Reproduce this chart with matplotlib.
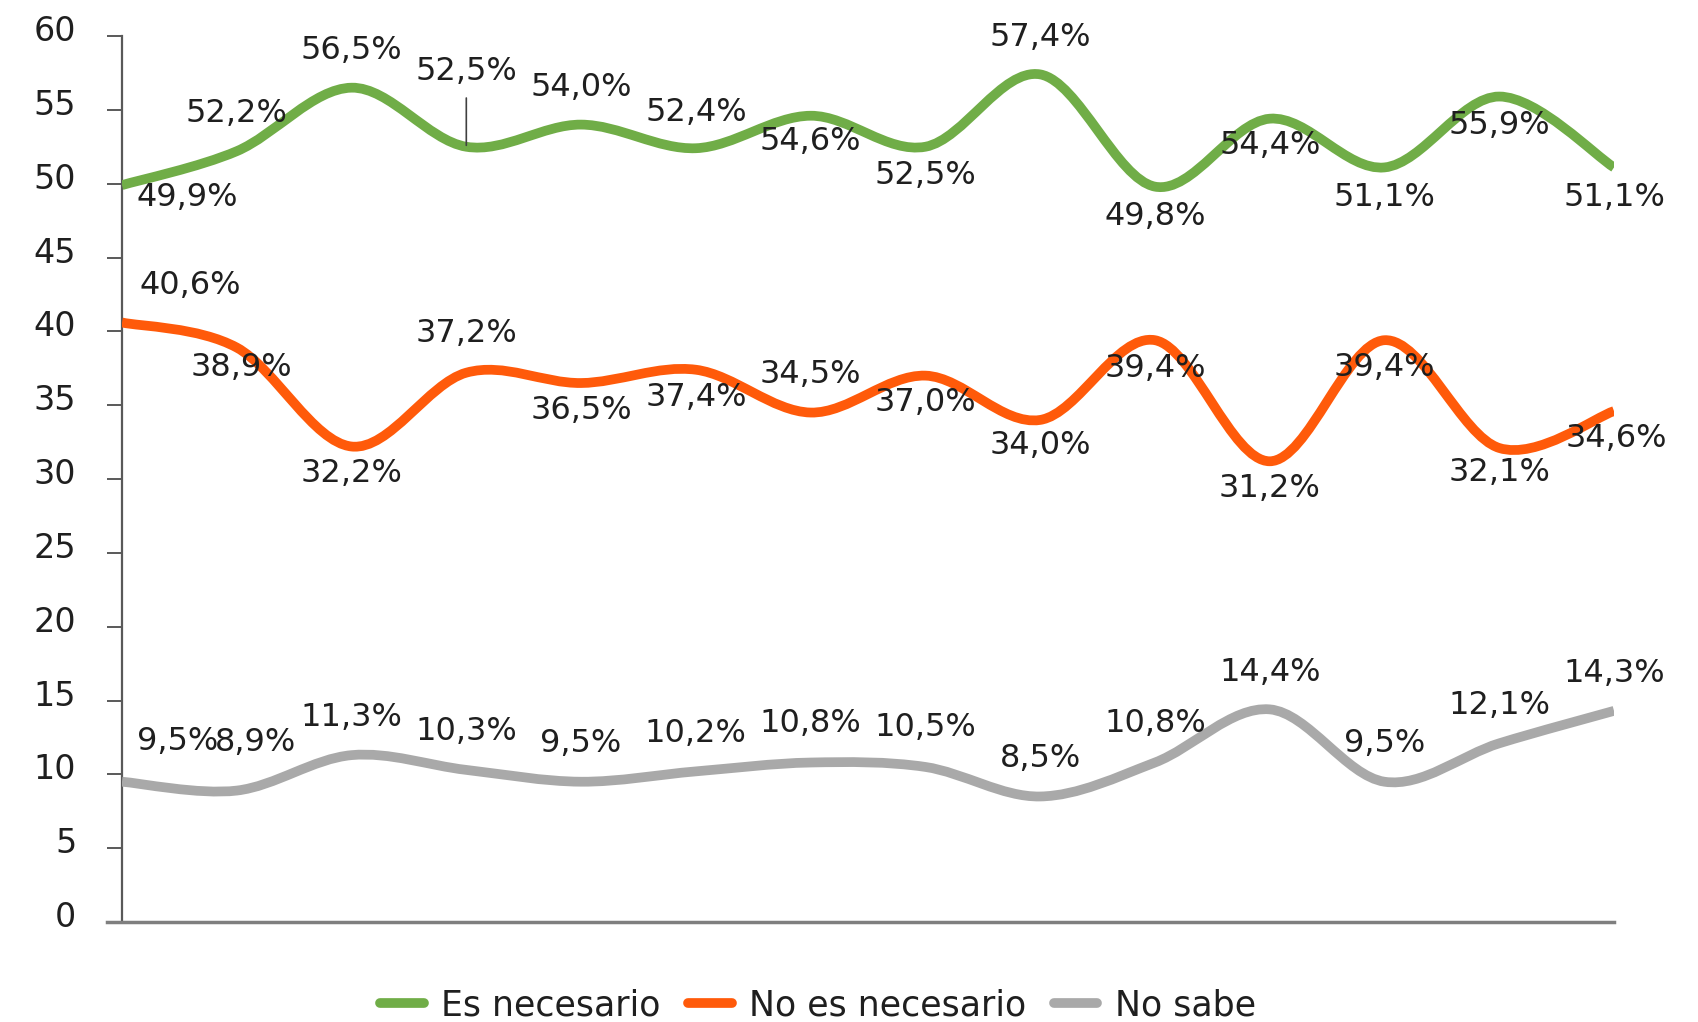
import numpy as np
import matplotlib
matplotlib.use("Agg")
import matplotlib.pyplot as plt
from matplotlib.path import Path
from matplotlib.patches import PathPatch
from matplotlib.lines import Line2D
from matplotlib.transforms import ScaledTranslation

# ---------------- data ----------------
series_names = ["Es necesario", "No es necesario", "No sabe"]
es_necesario = [49.9, 52.2, 56.5, 52.5, 54.0, 52.4, 54.6, 52.5, 57.4, 49.8, 54.4, 51.1, 55.9, 51.1]
no_es_necesario = [40.6, 38.9, 32.2, 37.2, 36.5, 37.4, 34.5, 37.0, 34.0, 39.4, 31.2, 39.4, 32.1, 34.6]
no_sabe = [9.5, 8.9, 11.3, 10.3, 9.5, 10.2, 10.8, 10.5, 8.5, 10.8, 14.4, 9.5, 12.1, 14.3]
y_ticks = [0, 5, 10, 15, 20, 25, 30, 35, 40, 45, 50, 55, 60]

# ---------------- style ----------------
colors = ["#70AD47", "#FF5A0A", "#A9A9A9"]
# label offsets in pixels (dx, dy; dy positive = down)
off_green = [(65, 12), (0, -38), (0, -37), (0, -75), (0, -37), (0, -36), (0, 26),
             (0, 29), (0, -37), (0, 30), (0, 27), (0, 30), (0, 29), (0, 30)]
off_orange = [(68, -37), (5, 20), (0, 27), (0, -39), (0, 27), (0, 28), (0, -38),
              (0, 27), (0, 26), (0, 28), (0, 27), (0, 27), (0, 25), (2, 27)]
off_gray = [(56, -40), (19, -48), (0, -38), (0, -38), (0, -38), (0, -38), (0, -39),
            (0, -39), (0, -38), (0, -39), (0, -37), (0, -38), (0, -38), (0, -37)]

W, H, DPI = 1699, 1022, 100
fig = plt.figure(figsize=(W / DPI, H / DPI), dpi=DPI)
fig.patch.set_facecolor("white")
left, right, y0px, y60px = 122, 1614, 922, 36
ax = fig.add_axes([left / W, 1 - y0px / H, (right - left) / W, (y0px - y60px) / H])

FONT = "DejaVu Sans"
TXT = "#1f1f1f"
x = np.arange(len(es_necesario))


def smooth_path(xs, ys):
    pts = np.column_stack([xs, ys]).astype(float)
    n = len(pts)
    verts = [pts[0]]
    codes = [Path.MOVETO]
    for i in range(n - 1):
        p0 = pts[i - 1] if i > 0 else pts[i]
        p1 = pts[i]
        p2 = pts[i + 1]
        p3 = pts[i + 2] if i + 2 < n else pts[i + 1]
        c1 = p1 + (p2 - p0) / 6.0
        c2 = p2 - (p3 - p1) / 6.0
        verts += [c1, c2, p2]
        codes += [Path.CURVE4] * 3
    return Path(verts, codes)


all_series = [es_necesario, no_es_necesario, no_sabe]
all_offsets = [off_green, off_orange, off_gray]
for vals, col, offs in zip(all_series, colors, all_offsets):
    patch = PathPatch(smooth_path(x, vals), facecolor="none", edgecolor=col,
                      lw=7, capstyle="butt", joinstyle="round", zorder=3)
    ax.add_patch(patch)
    for i, v in enumerate(vals):
        lab = f"{v:.1f}".replace(".", ",") + "%"
        dx, dy = offs[i]
        ax.annotate(lab, (x[i], v), xytext=(dx * 0.72, -dy * 0.72), textcoords="offset points",
                    ha="center", va="center", fontsize=23, color=TXT, family=FONT,
                    zorder=5, annotation_clip=False)

# leader line for the 4th green label
ax.annotate("", xy=(x[3], es_necesario[3]), xytext=(x[3], es_necesario[3] + 3.3),
            arrowprops=dict(arrowstyle="-", color="#404040", lw=1.2, shrinkA=0, shrinkB=1),
            zorder=4)

ax.set_xlim(0, len(x) - 1)
ax.set_ylim(0, 60)
ax.set_yticks(y_ticks)
ax.set_yticklabels([str(t) for t in y_ticks], fontsize=24, family=FONT, color=TXT)
ax.set_xticks([])
for s in ["top", "right"]:
    ax.spines[s].set_visible(False)
ax.spines["left"].set_color("#595959")
ax.spines["left"].set_linewidth(1.6)
ax.spines["bottom"].set_color("#7F7F7F")
ax.spines["bottom"].set_linewidth(2.5)
ax.spines["bottom"].set_bounds(-15 / 114.77, len(x) - 1)
ax.tick_params(axis="y", length=11, width=1.4, color="#595959", pad=22)
shift = ScaledTranslation(0, 8 / DPI, fig.dpi_scale_trans)
for lbl in ax.get_yticklabels():
    lbl.set_transform(lbl.get_transform() + shift)

handles = [Line2D([], [], color=c, lw=7, solid_capstyle="round") for c in colors]
fig.legend(handles, series_names, loc="center", bbox_to_anchor=(818 / W, 1 - 1005 / H),
           ncol=3, frameon=False, prop={"family": FONT, "size": 25},
           handlelength=1.25, handletextpad=0.5, columnspacing=0.8, labelcolor=TXT)

fig.savefig("out.png", dpi=DPI, facecolor="white")
